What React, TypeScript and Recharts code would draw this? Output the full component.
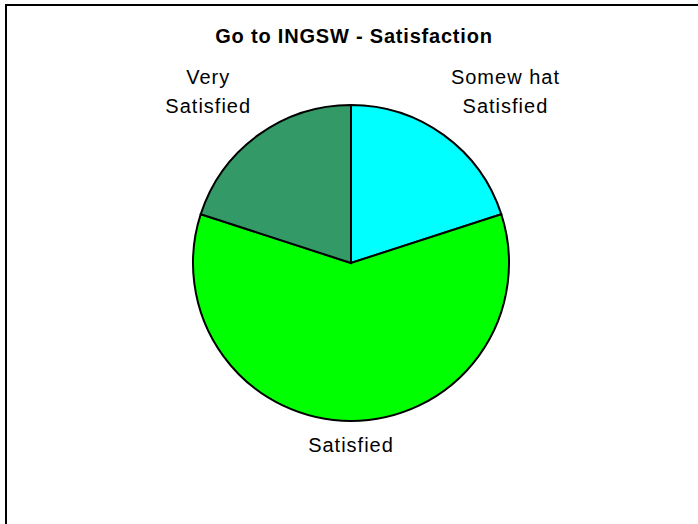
import { PieChart, Pie, Cell } from 'recharts';

const categories = ['Somewhat Satisfied', 'Satisfied', 'Very Satisfied'];
const labelLines = [['Somew hat', 'Satisfied'], ['Satisfied'], ['Very', 'Satisfied']];
const values = [20, 60, 20];
const colors = ['#00FFFF', '#00FF00', '#339966'];

const data = categories.map((name, i) => ({ name, value: values[i], idx: i }));

const FONT = '"Liberation Sans", Arial, sans-serif';
const LABEL_SIZE = 20;
const LABEL_SPACING = 1;
const RAD = Math.PI / 180;

let ctx: CanvasRenderingContext2D | null = null;
const measure = (s: string) => {
    if (!ctx) ctx = document.createElement('canvas').getContext('2d');
    if (!ctx) return s.length * 9.5;
    ctx.font = `${LABEL_SIZE}px ${FONT}`;
    return ctx.measureText(s).width + s.length * LABEL_SPACING;
};

const renderLabel = (props: any) => {
    const { cx, cy, midAngle, outerRadius, index } = props;
    const lines = labelLines[index];
    const cos = Math.cos(-midAngle * RAD);
    const sin = Math.sin(-midAngle * RAD);
    const px = cx + (outerRadius + 12) * cos;
    const py = cy + (outerRadius + 12) * sin;
    const lineH = 29;
    const boxW = Math.max(...lines.map(measure));
    const boxH = lines.length * lineH;
    const bx = Math.abs(cos) < 0.2 ? px : px + (cos > 0 ? boxW / 2 : -boxW / 2);
    const by = sin > 0 ? py + boxH / 2 - 3 : py - boxH / 2 - 5;
    const firstY = by - (boxH - lineH) / 2;
    return (
        <text
            x={bx}
            y={firstY}
            textAnchor="middle"
            dominantBaseline="central"
            fill="#000"
            style={{ fontFamily: FONT, fontSize: `${LABEL_SIZE}px`, letterSpacing: `${LABEL_SPACING}px` }}
        >
            {lines.map((l, i) => (
                <tspan key={i} x={bx} y={firstY + i * lineH}>
                    {l}
                </tspan>
            ))}
        </text>
    );
};

export default function App() {
    return (
        <div style={{ position: 'absolute', left: 0, top: 0, width: 698, height: 524, background: '#fff', overflow: 'hidden' }}>
            <div
                style={{
                    position: 'absolute',
                    left: 5,
                    top: 4,
                    width: 720,
                    height: 540,
                    borderTop: '2px solid #000',
                    borderLeft: '2px solid #000',
                }}
            />
            <div
                style={{
                    position: 'absolute',
                    left: 0,
                    top: 25,
                    width: 708,
                    lineHeight: '22px',
                    textAlign: 'center',
                    fontFamily: FONT,
                    fontWeight: 'bold',
                    fontSize: '20px',
                    letterSpacing: '0.8px',
                }}
            >
                Go to INGSW - Satisfaction
            </div>
            <div style={{ position: 'absolute', left: 0, top: 0 }}>
                <PieChart width={698} height={524} margin={{ top: 0, right: 0, bottom: 0, left: 0 }}>
                    <Pie
                        data={data}
                        dataKey="value"
                        nameKey="name"
                        cx={351}
                        cy={263}
                        outerRadius={158}
                        startAngle={90}
                        endAngle={-270}
                        stroke="#000"
                        strokeWidth={2}
                        label={renderLabel}
                        labelLine={false}
                        isAnimationActive={false}
                    >
                        {data.map((d) => (
                            <Cell key={d.name} fill={colors[d.idx]} />
                        ))}
                    </Pie>
                </PieChart>
            </div>
        </div>
    );
}
